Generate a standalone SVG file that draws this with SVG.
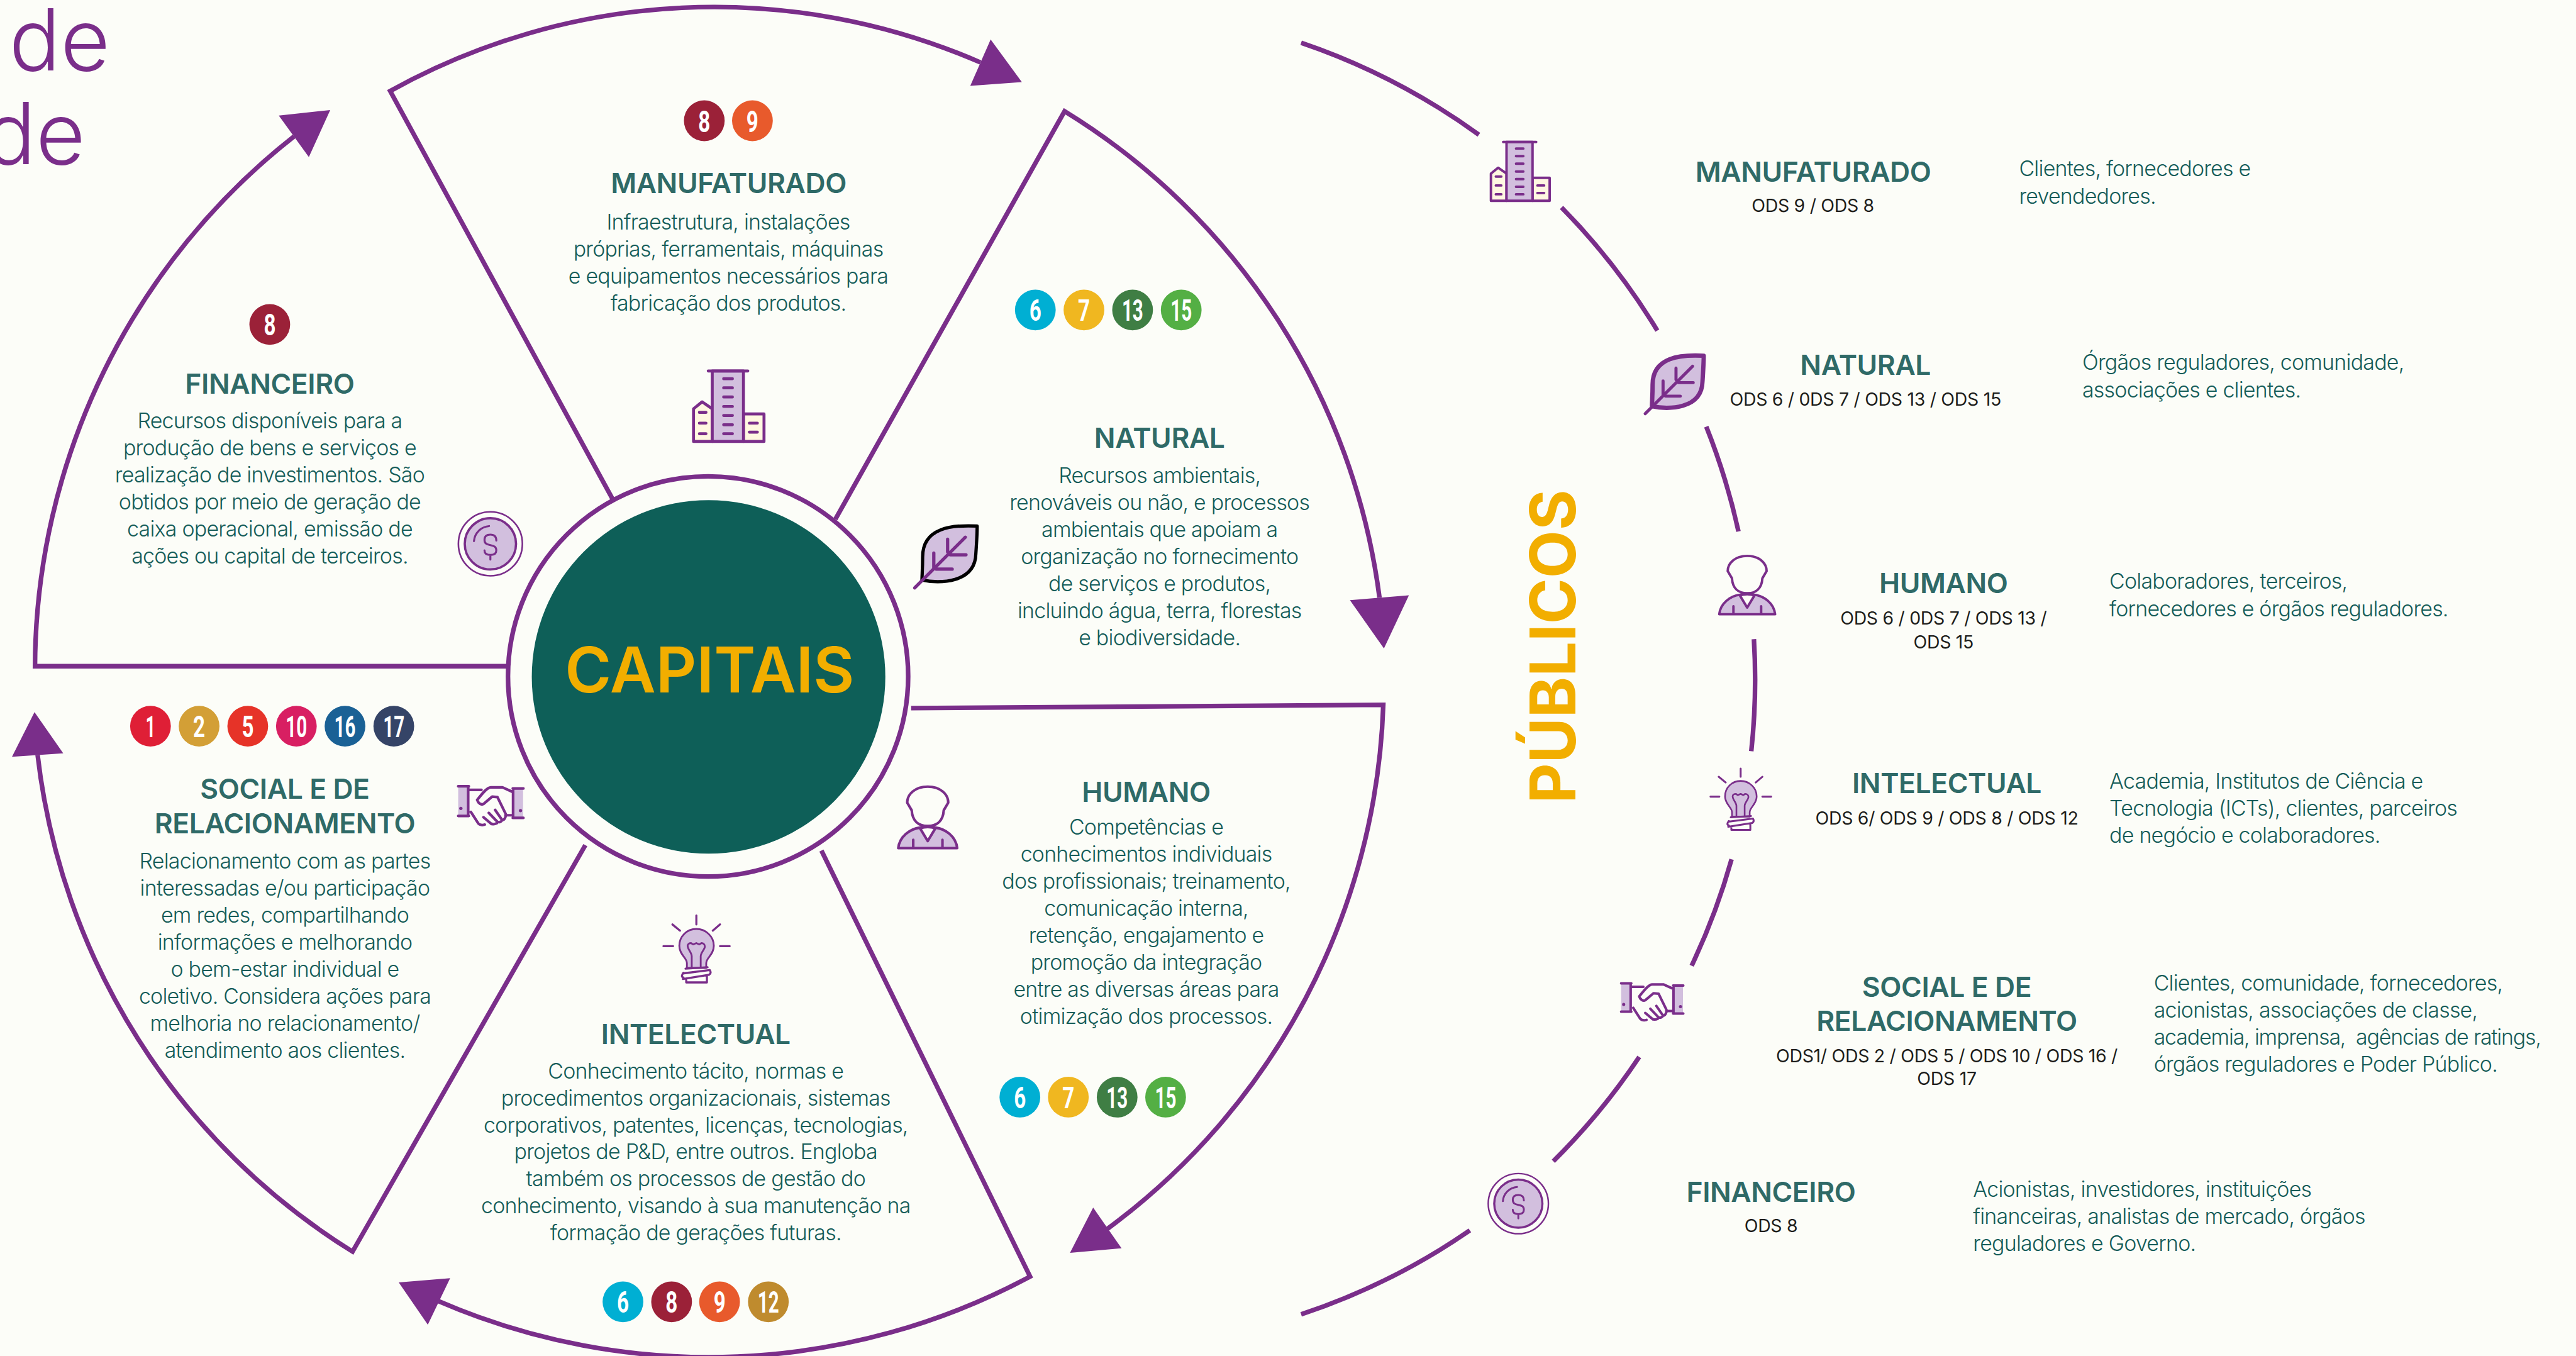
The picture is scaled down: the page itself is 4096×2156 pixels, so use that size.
<svg xmlns="http://www.w3.org/2000/svg" xmlns:xlink="http://www.w3.org/1999/xlink" width="4096" height="2156" viewBox="0 0 4096 2156">
<style>
.p{fill:none;stroke:#7A2E8A;stroke-width:2.8}
.head{fill:#7A2E8A}
.t{font-family:"Inter","Liberation Sans",sans-serif}
.h{font-family:"Inter","Liberation Sans",sans-serif;font-weight:600;font-size:17px;fill:#2F6A67;text-anchor:middle;letter-spacing:-.15px}
.b{font-family:"Inter","Liberation Sans",sans-serif;font-weight:300;font-size:13px;fill:#145C58;text-anchor:middle;letter-spacing:-.3px}
.d{font-family:"Inter","Liberation Sans",sans-serif;font-weight:300;font-size:13px;fill:#145C58;letter-spacing:-.3px}
.s{font-family:"Inter","Liberation Sans",sans-serif;font-weight:400;font-size:10.9px;fill:#1d1d1b;text-anchor:middle;letter-spacing:-.12px}
.n{font-family:"Roboto","Liberation Sans",sans-serif;font-weight:700;font-size:18.5px;fill:#fff;text-anchor:middle}
.i{fill:none;stroke:#7A2E8A;stroke-width:4;stroke-linecap:round;stroke-linejoin:round}
.l{fill:#D2BFDE}
.c{fill:#FFF8E1}
.w{fill:#FCFDF8}
</style>
<defs>
<g id="building">
<path class="i c" d="M3,98V53.5L14.7,44L28.5,53.5V98ZM71,98V60.5H99V98Z"/>
<rect class="i l" x="28.5" y="2" width="42.5" height="96"/>
<path class="i" d="M23,2H77M44,12.6H56M44,25H56M44,37.4H56M44,50.3H56M44,62.6H56M44,75.2H56M44,87.4H56M11,58.4H20M11,73H20M11,87.4H20M79,73H90M79,85.3H90"/>
</g>
<g id="leaf">
<path class="l" stroke-linejoin="round" d="M98,3C60,1 15,5 15,50C15,68 14,78 14,85C40,91 95,90 96,45C97,30 98,15 98,3Z"/>
<path class="i" style="stroke-width:5" d="M3,97L80,20M53,23V42M57,46.7H81M32,44V67M36,68.6H60"/>
</g>
<g id="person">
<path class="i" d="M50,2C30,2 18,14 18,27L25,39C26,55 35,63.5 50,63.5C65,63.5 74,55 75,39L82,27C82,14 70,2 50,2Z"/>
<path class="i l" d="M4,98C6,80 22,68 38,66Q50,62 62,66C78,68 94,80 96,98Z"/>
<path class="i w" d="M38,67L50,87L62,67Q50,63 38,67Z"/>
<path class="i" d="M27.4,85V97M73,85V97"/>
</g>
<g id="bulb">
<path class="i" style="stroke-width:3" d="M49.7,1V14M15,14L26,23M84,14L73.5,23M2,45.4H16M84,45.4H98"/>
<path class="i l" style="stroke-width:2.6" d="M36,77V70C36,62 25,58 25,45C25,31 36,20.5 49.7,20.5C63,20.5 75,31 75,45C75,58 64,62 64,70V77Z"/>
<path class="i" style="stroke-width:2.6" d="M43,76V60C43,55 37,50 37,45C37,42 40,41 42,41L45,43L49.7,41L54,43L57,41C60,41 62,43 62,46C62,50 56,55 56,60V76"/>
<path class="i" style="stroke-width:3" d="M34,78L66,76M31,84C28,88 28,90 31,91M30,85L69,80C71,83 71,85 68,87L30,93M35,94V98H65V88"/>
</g>
<g id="hands">
<rect class="l" x="1" y="1.4" width="15" height="45"/>
<rect class="l" x="83.5" y="4.8" width="15" height="44"/>
<path class="i" d="M1,1.4H17M1,46H17M16,1.4V46M83,4.8H99M83,49H99M83.5,4.8V49M17,6.8H36M83,10L67.6,3H50C44,3 36,14 29.5,22C31,27 36,30 39,28L52,17L60,17.7L72.4,43C73,48 70,53 67,52L56.5,37M72,45H82M60,55L47,41.5M51,58L39,48M20,40L31,57C34,60 38,60 41,59M52,58C54,59 57,58 59,57M60,55C63,56 66,55 67,52"/>
<circle class="head" cx="5" cy="34.7" r="2.5"/><circle class="head" cx="94.6" cy="38" r="2.5"/>
</g>
<g id="coin">
<circle class="i" style="stroke-width:2.5" cx="50" cy="50" r="48.7"/>
<circle class="i l" style="stroke-width:3.5" cx="50" cy="50" r="39"/>
<path class="i" style="stroke-width:3" d="M25,46C26,33 36,24 48,23M59,45C59,39 56,36 50,36C44,36 41,39 41,44C41,50 45,51 50,52C55,53 59,54 59,60C59,65 56,67 50,67C44,67 41,65 41,60M50,67V74"/>
</g>
</defs>
<rect width="4096" height="2156" fill="#FCFDF8"/>
<g transform="scale(2.61224)">
<g id="title"><text class="t" font-weight="300" font-size="52" fill="#7A2E8A" text-anchor="end"><tspan x="67" y="43">de</tspan><tspan x="52" y="100">de</tspan></text></g>

<g id="connectors">
<path class="p" d="M309,405.5H21.3A412,412 0 0 1 179,83"/>
<path class="p" d="M373,304L237.5,55.4A406,406 0 0 1 596.8,38"/>
<path class="p" d="M508.5,316L648,67.7A409,409 0 0 1 839.7,363.8"/>
<path class="p" d="M554.6,431L842,429A413,413 0 0 1 674,748"/>
<path class="p" d="M500,517.7L627,777A414,414 0 0 1 267,792"/>
<path class="p" d="M356.3,514.4L214.6,761.8A411.5,411.5 0 0 1 22.9,459.5"/>
<polygon class="head" points="169.7,70.3 201,67 188,95.6"/>
<polygon class="head" points="603,24 622,50 590.6,52.3"/>
<polygon class="head" points="821.7,365.3 857.6,362.3 842.4,394.7"/>
<polygon class="head" points="665.4,735 682.7,759.8 651.3,762.6"/>
<polygon class="head" points="274,778 242.7,780.6 260.4,806.3"/>
<polygon class="head" points="21,433.4 38.5,458.5 7.3,460.6"/>
<path class="p" d="M792,26A408,408 0 0 1 900.2,82"/>
<path class="p" d="M950.5,126.3A408,408 0 0 1 1008.8,201.2"/>
<path class="p" d="M1038.6,259.7A408,408 0 0 1 1058.2,323.5"/>
<path class="p" d="M1067.6,389A408,408 0 0 1 1066,457.2"/>
<path class="p" d="M1054,523A408,408 0 0 1 1029.7,587.8"/>
<path class="p" d="M997.8,643.3A408,408 0 0 1 945.5,706.8"/>
<path class="p" d="M894.7,748.9A408,408 0 0 1 792,800"/>
</g>

<g id="capitais">
<circle class="p" cx="431" cy="411.7" r="121.8"/>
<circle cx="431.3" cy="412" r="107.6" fill="#0E5F58"/>
<text class="t" x="432" y="421.5" font-weight="600" font-size="38.4" fill="#F2AE00" text-anchor="middle">CAPITAIS</text>
</g>

<g id="cap-manufaturado">
<circle cx="428.7" cy="73.5" r="12.4" fill="#9B2138"/><text class="n" x="428.7" y="80.2" textLength="7.3" lengthAdjust="spacingAndGlyphs">8</text>
<circle cx="458" cy="73.5" r="12.4" fill="#E85A2C"/><text class="n" x="458" y="80.2" textLength="7.3" lengthAdjust="spacingAndGlyphs">9</text>
<text class="h" x="443.5" y="117.4">MANUFATURADO</text>
<text class="b"><tspan x="443.3" y="139.6">Infraestrutura, instalações</tspan><tspan x="443.3" y="156">próprias, ferramentais, máquinas</tspan><tspan x="443.3" y="172.6">e equipamentos necessários para</tspan><tspan x="443.3" y="189.2">fabricação dos produtos.</tspan></text>
<use xlink:href="#building" href="#building" transform="translate(420.8,224.9) scale(.447)"/>
</g>

<g id="cap-natural">
<circle cx="630.2" cy="188.7" r="12.4" fill="#00AFD3"/><text class="n" x="630.2" y="195.4" textLength="7.3" lengthAdjust="spacingAndGlyphs">6</text>
<circle cx="659.8" cy="188.7" r="12.4" fill="#F0B720"/><text class="n" x="659.8" y="195.4" textLength="7.3" lengthAdjust="spacingAndGlyphs">7</text>
<circle cx="689.4" cy="188.7" r="12.4" fill="#3F7E44"/><text class="n" x="689.4" y="195.4" textLength="13" lengthAdjust="spacingAndGlyphs">13</text>
<circle cx="719" cy="188.7" r="12.4" fill="#54AF44"/><text class="n" x="719" y="195.4" textLength="13" lengthAdjust="spacingAndGlyphs">15</text>
<text class="h" x="705.8" y="272.4">NATURAL</text>
<text class="b"><tspan x="705.8" y="294">Recursos ambientais,</tspan><tspan x="705.8" y="310.5">renováveis ou não, e processos</tspan><tspan x="705.8" y="327">ambientais que apoiam a</tspan><tspan x="705.8" y="343.4">organização no fornecimento</tspan><tspan x="705.8" y="359.9">de serviços e produtos,</tspan><tspan x="705.8" y="376.4">incluindo água, terra, florestas</tspan><tspan x="705.8" y="392.9">e biodiversidade.</tspan></text>
<use xlink:href="#leaf" href="#leaf" stroke="#000" stroke-width="5" transform="translate(555.6,319) scale(.4)"/>
</g>

<g id="cap-humano">
<text class="h" x="697.7" y="488.1">HUMANO</text>
<text class="b"><tspan x="697.7" y="508">Competências e</tspan><tspan x="697.7" y="524.5">conhecimentos individuais</tspan><tspan x="697.7" y="541">dos profissionais; treinamento,</tspan><tspan x="697.7" y="557.4">comunicação interna,</tspan><tspan x="697.7" y="573.9">retenção, engajamento e</tspan><tspan x="697.7" y="590.4">promoção da integração</tspan><tspan x="697.7" y="606.8">entre as diversas áreas para</tspan><tspan x="697.7" y="623.3">otimização dos processos.</tspan></text>
<circle cx="620.8" cy="667.8" r="12.4" fill="#00AFD3"/><text class="n" x="620.8" y="674.5" textLength="7.3" lengthAdjust="spacingAndGlyphs">6</text>
<circle cx="650.3" cy="667.8" r="12.4" fill="#F0B720"/><text class="n" x="650.3" y="674.5" textLength="7.3" lengthAdjust="spacingAndGlyphs">7</text>
<circle cx="680" cy="667.8" r="12.4" fill="#3F7E44"/><text class="n" x="680" y="674.5" textLength="13" lengthAdjust="spacingAndGlyphs">13</text>
<circle cx="709.5" cy="667.8" r="12.4" fill="#54AF44"/><text class="n" x="709.5" y="674.5" textLength="13" lengthAdjust="spacingAndGlyphs">15</text>
<use xlink:href="#person" href="#person" transform="translate(545.2,478) scale(.39)"/>
</g>

<g id="cap-intelectual">
<use xlink:href="#bulb" href="#bulb" transform="translate(403,556.8) scale(.42)"/>
<text class="h" x="423.5" y="635.6">INTELECTUAL</text>
<text class="b"><tspan x="423.5" y="656.4">Conhecimento tácito, normas e</tspan><tspan x="423.5" y="672.8">procedimentos organizacionais, sistemas</tspan><tspan x="423.5" y="689.3">corporativos, patentes, licenças, tecnologias,</tspan><tspan x="423.5" y="705.7">projetos de P&amp;D, entre outros. Engloba</tspan><tspan x="423.5" y="722.1">também os processos de gestão do</tspan><tspan x="423.5" y="738.6">conhecimento, visando à sua manutenção na</tspan><tspan x="423.5" y="755">formação de gerações futuras.</tspan></text>
<circle cx="379.2" cy="792.4" r="12.4" fill="#00AFD3"/><text class="n" x="379.2" y="799.1" textLength="7.3" lengthAdjust="spacingAndGlyphs">6</text>
<circle cx="408.8" cy="792.4" r="12.4" fill="#9B2138"/><text class="n" x="408.8" y="799.1" textLength="7.3" lengthAdjust="spacingAndGlyphs">8</text>
<circle cx="438" cy="792.4" r="12.4" fill="#E85A2C"/><text class="n" x="438" y="799.1" textLength="7.3" lengthAdjust="spacingAndGlyphs">9</text>
<circle cx="467.7" cy="792.4" r="12.4" fill="#BF8B2E"/><text class="n" x="467.7" y="799.1" textLength="13" lengthAdjust="spacingAndGlyphs">12</text>
</g>

<g id="cap-social">
<circle cx="91.6" cy="442" r="12.4" fill="#DF1F36"/><text class="n" x="91.6" y="448.7" textLength="6" lengthAdjust="spacingAndGlyphs">1</text>
<circle cx="121.2" cy="442" r="12.4" fill="#D39F36"/><text class="n" x="121.2" y="448.7" textLength="7.3" lengthAdjust="spacingAndGlyphs">2</text>
<circle cx="150.8" cy="442" r="12.4" fill="#E63328"/><text class="n" x="150.8" y="448.7" textLength="7.3" lengthAdjust="spacingAndGlyphs">5</text>
<circle cx="180.4" cy="442" r="12.4" fill="#D81F62"/><text class="n" x="180.4" y="448.7" textLength="13" lengthAdjust="spacingAndGlyphs">10</text>
<circle cx="210" cy="442" r="12.4" fill="#1A6195"/><text class="n" x="210" y="448.7" textLength="13" lengthAdjust="spacingAndGlyphs">16</text>
<circle cx="239.7" cy="442" r="12.4" fill="#354467"/><text class="n" x="239.7" y="448.7" textLength="13" lengthAdjust="spacingAndGlyphs">17</text>
<text class="h"><tspan x="173.4" y="486">SOCIAL E DE</tspan><tspan x="173.4" y="507.2">RELACIONAMENTO</tspan></text>
<text class="b"><tspan x="173.4" y="528.8">Relacionamento com as partes</tspan><tspan x="173.4" y="545.2">interessadas e/ou participação</tspan><tspan x="173.4" y="561.7">em redes, compartilhando</tspan><tspan x="173.4" y="578.2">informações e melhorando</tspan><tspan x="173.4" y="594.6">o bem-estar individual e</tspan><tspan x="173.4" y="611.1">coletivo. Considera ações para</tspan><tspan x="173.4" y="627.5">melhoria no relacionamento/</tspan><tspan x="173.4" y="644">atendimento aos clientes.</tspan></text>
<use xlink:href="#hands" href="#hands" transform="translate(278.5,478) scale(.405)"/>
</g>

<g id="cap-financeiro">
<circle cx="164.2" cy="197.5" r="12.4" fill="#9B2138"/><text class="n" x="164.2" y="204.2" textLength="7.3" lengthAdjust="spacingAndGlyphs">8</text>
<text class="h" x="164.2" y="239.6">FINANCEIRO</text>
<text class="b"><tspan x="164.2" y="260.7">Recursos disponíveis para a</tspan><tspan x="164.2" y="277.1">produção de bens e serviços e</tspan><tspan x="164.2" y="293.6">realização de investimentos. São</tspan><tspan x="164.2" y="310">obtidos por meio de geração de</tspan><tspan x="164.2" y="326.5">caixa operacional, emissão de</tspan><tspan x="164.2" y="343">ações ou capital de terceiros.</tspan></text>
<use xlink:href="#coin" href="#coin" transform="translate(278.5,311) scale(.4)"/>
</g>

<g id="publicos"><text class="t" transform="translate(959,489) rotate(-90)" font-weight="700" font-size="38.5" fill="#F2AE00" textLength="191" lengthAdjust="spacingAndGlyphs">PÚBLICOS</text></g>

<g id="pub-manufaturado">
<use xlink:href="#building" href="#building" transform="translate(906.4,85.7) scale(.3725)"/>
<text class="h" x="1103.7" y="110.5">MANUFATURADO</text>
<text class="s" x="1103.5" y="129">ODS 9 / ODS 8</text>
<text class="d"><tspan x="1229" y="107">Clientes, fornecedores e</tspan><tspan x="1229" y="124">revendedores.</tspan></text>
</g>
<g id="pub-natural">
<use xlink:href="#leaf" href="#leaf" stroke="#7A2E8A" stroke-width="7" transform="translate(1000.3,215.4) scale(.375)"/>
<text class="h" x="1135.5" y="228">NATURAL</text>
<text class="s" x="1135.5" y="247">ODS 6 / 0DS 7 / ODS 13 / ODS 15</text>
<text class="d"><tspan x="1267.5" y="225">Órgãos reguladores, comunidade,</tspan><tspan x="1267.5" y="242">associações e clientes.</tspan></text>
</g>
<g id="pub-humano">
<use xlink:href="#person" href="#person" transform="translate(1045,337.6) scale(.37)"/>
<text class="h" x="1183" y="361">HUMANO</text>
<text class="s"><tspan x="1183" y="380.3">ODS 6 / 0DS 7 / ODS 13 /</tspan><tspan x="1183" y="394.5">ODS 15</tspan></text>
<text class="d"><tspan x="1284" y="358.5">Colaboradores, terceiros,</tspan><tspan x="1284" y="375">fornecedores e órgãos reguladores.</tspan></text>
</g>
<g id="pub-intelectual">
<use xlink:href="#bulb" href="#bulb" transform="translate(1040.4,467.4) scale(.385)"/>
<text class="h" x="1185" y="482.6">INTELECTUAL</text>
<text class="s" x="1185" y="501.7">ODS 6/ ODS 9 / ODS 8 / ODS 12</text>
<text class="d"><tspan x="1284" y="480">Academia, Institutos de Ciência e</tspan><tspan x="1284" y="496.5">Tecnologia (ICTs), clientes, parceiros</tspan><tspan x="1284" y="513">de negócio e colaboradores.</tspan></text>
</g>
<g id="pub-social">
<use xlink:href="#hands" href="#hands" transform="translate(986.4,598) scale(.386)"/>
<text class="h"><tspan x="1185" y="606.6">SOCIAL E DE</tspan><tspan x="1185" y="627.6">RELACIONAMENTO</tspan></text>
<text class="s"><tspan x="1185" y="646.4">ODS1/ ODS 2 / ODS 5 / ODS 10 / ODS 16 /</tspan><tspan x="1185" y="660.4">ODS 17</tspan></text>
<text class="d" xml:space="preserve"><tspan x="1311" y="603">Clientes, comunidade, fornecedores,</tspan><tspan x="1311" y="619.5">acionistas, associações de classe,</tspan><tspan x="1311" y="636" letter-spacing="-.45">academia, imprensa,  agências de ratings,</tspan><tspan x="1311" y="652.5">órgãos reguladores e Poder Público.</tspan></text>
</g>
<g id="pub-financeiro">
<use xlink:href="#coin" href="#coin" transform="translate(905.4,713.8) scale(.376)"/>
<text class="h" x="1078" y="731.4">FINANCEIRO</text>
<text class="s" x="1078" y="750">ODS 8</text>
<text class="d"><tspan x="1201" y="728.5">Acionistas, investidores, instituições</tspan><tspan x="1201" y="745">financeiras, analistas de mercado, órgãos</tspan><tspan x="1201" y="761.5">reguladores e Governo.</tspan></text>
</g>
</g>
</svg>
